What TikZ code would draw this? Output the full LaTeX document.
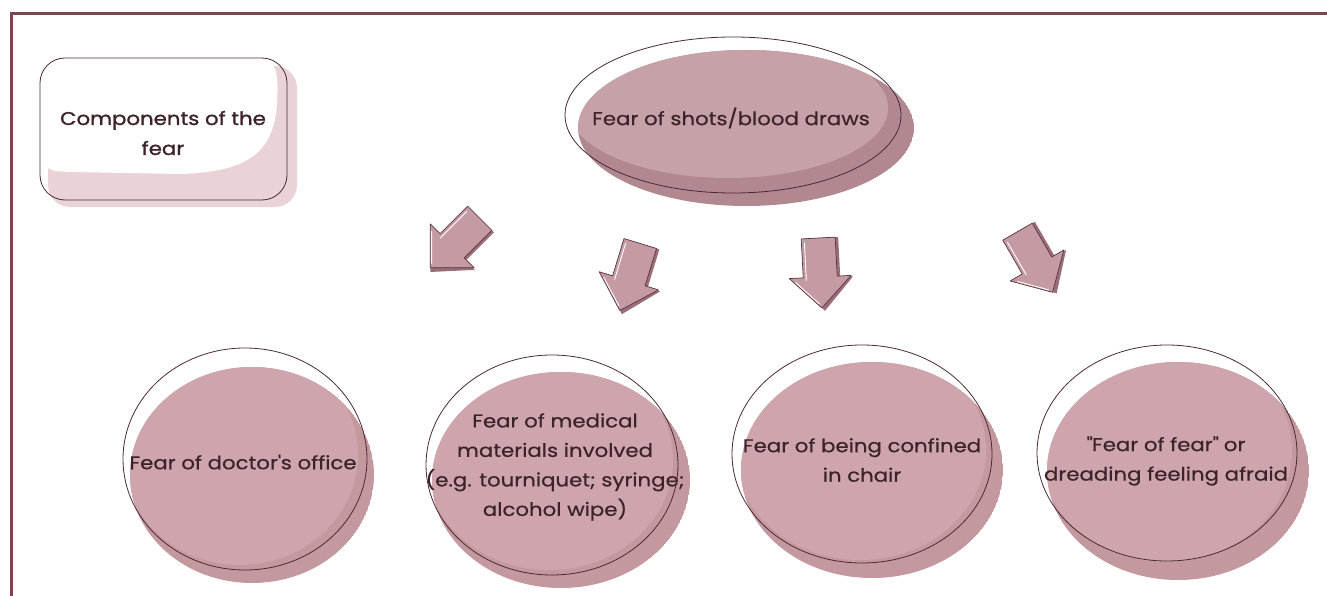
\documentclass[tikz,border=0pt]{standalone}
\usepackage{fontspec}
\setmainfont[FakeStretch=1.15,FakeBold=0.5]{Poppins}
\newfontfamily\boldish[FakeStretch=1.15,FakeBold=1.2]{Poppins}
\usetikzlibrary{shapes.geometric}
\definecolor{framec}{HTML}{7B4652}
\definecolor{outl}{HTML}{4A2A33}
\definecolor{filla}{HTML}{CEA5AC}
\definecolor{fillb}{HTML}{C4989F}
\definecolor{ella}{HTML}{C6A1A7}
\definecolor{ellb}{HTML}{B28890}
\definecolor{boxpink}{HTML}{E9D3D6}
\definecolor{txt}{HTML}{3B2329}
\definecolor{arrfill}{HTML}{C49BA2}
\definecolor{arrdark}{HTML}{5A3440}
\definecolor{arrshadow}{HTML}{9A6E79}
\tikzset{
  lbl/.style={text=txt, font=\fontsize{18.5}{29.5}\selectfont, align=center, inner sep=0pt},
  sketch/.style={draw=outl, line width=0.8pt},
  blockarrow/.pic={
    \fill[arrshadow] (-14,-35) -- (20,-35) -- (20,5) -- (33,5) -- (3,38) -- (-27,5) -- (-14,5) -- cycle;
    \filldraw[fill=arrfill, draw=arrdark, line width=0.7pt, line join=round]
      (-17,-35) -- (17,-35) -- (17,4) -- (31,4) -- (0,35) -- (-31,4) -- (-17,4) -- cycle;
    \draw[white, line width=0.9pt] (-14,-31) -- (-14,7) (-25,8) -- (-2,31);
  }
}
\begin{document}
\begin{tikzpicture}[x=1pt,y=-1pt]
\useasboundingbox (0,0) rectangle (1327,596);
% frame
\draw[framec, line width=2.5pt] (11.3,596) -- (11.3,13.3) -- (1327,13.3);

% components box
\fill[boxpink, rounded corners=22pt] (48,66) rectangle (297,207);
\fill[white] (41,88) .. controls (41,59) .. (72,59) -- (255,59)
  .. controls (276,59) and (279,68) .. (277,105)
  .. controls (273,158) and (240,172) .. (180,174)
  -- (72,172) .. controls (46,171) .. (42,150) -- cycle;
\draw[sketch, rounded corners=25pt] (40,58) rectangle (287,200);
\node[lbl, font=\boldish\fontsize{18.5}{30}\selectfont] (comp) at (163,133) {Components of the\\fear};

% top ellipse
\begin{scope}
  \clip (746,128) ellipse [x radius=168, y radius=78];
  \fill[ellb] (746,128) ellipse [x radius=168, y radius=78];
  \fill[ella] (728,108) ellipse [x radius=160, y radius=70];
\end{scope}
\draw[sketch] (733,115) ellipse [x radius=168, y radius=78];
\node[lbl] (top) at (731,118) {Fear of shots/blood draws};

% circle 1
\begin{scope}
  \clip (252,475) ellipse [x radius=122, y radius=108];
  \fill[fillb] (252,475) ellipse [x radius=122, y radius=108];
  \fill[filla] (240,455) ellipse [x radius=118, y radius=110];
\end{scope}
\draw[sketch] (245,459) ellipse [x radius=122, y radius=111];
\node[lbl] (c1) at (243,462) {Fear of doctor\textquotesingle s office};

% circle 2
\begin{scope}
  \clip (561,480) ellipse [x radius=129, y radius=108];
  \fill[fillb] (561,480) ellipse [x radius=129, y radius=108];
  \fill[filla] (549,460) ellipse [x radius=124, y radius=110];
\end{scope}
\draw[sketch] (552,465) ellipse [x radius=126, y radius=110];
\node[lbl] (c2) at (555,467) {Fear of medical\\materials involved\\(e.g. tourniquet; syringe;\\alcohol wipe)};

% circle 3
\begin{scope}
  \clip (872,470) ellipse [x radius=131, y radius=108];
  \fill[fillb] (872,470) ellipse [x radius=131, y radius=108];
  \fill[filla] (860,450) ellipse [x radius=126, y radius=110];
\end{scope}
\draw[sketch] (862,454) ellipse [x radius=130, y radius=109];
\node[lbl] (c3) at (862,460) {Fear of being confined\\in chair};

% circle 4
\begin{scope}
  \clip (1178,471) ellipse [x radius=131, y radius=109];
  \fill[fillb] (1178,471) ellipse [x radius=131, y radius=109];
  \fill[filla] (1166,451) ellipse [x radius=126, y radius=111];
\end{scope}
\draw[sketch] (1167,453) ellipse [x radius=130, y radius=108];
\node[lbl] (c4) at (1166,461) {\textquotedbl Fear of fear\textquotedbl{} or\\dreading feeling afraid};

% block arrows
\coordinate (a1) at (455,243);
\coordinate (a2) at (630,277);
\coordinate (a3) at (820,273);
\coordinate (a4) at (1035,262);
\pic[rotate=-45] at (a1) {blockarrow};
\pic[rotate=-17] at (a2) {blockarrow};
\pic[rotate=3] at (a3) {blockarrow};
\pic[rotate=30] at (a4) {blockarrow};
\end{tikzpicture}
\end{document}
